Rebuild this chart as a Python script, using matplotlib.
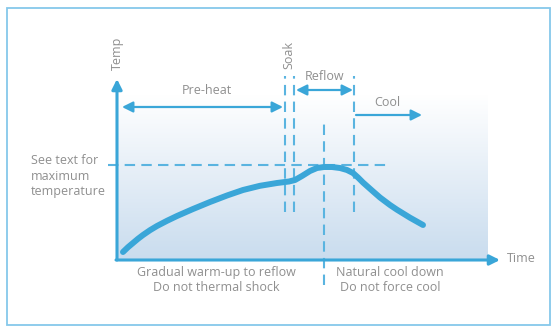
import numpy as np
import matplotlib.pyplot as plt
from matplotlib.patches import FancyArrowPatch, Rectangle
from matplotlib.colors import LinearSegmentedColormap

# reflow profile (time, temp in arbitrary units)
time = [6, 11, 16, 21, 26, 33, 40, 50, 60, 76, 93, 110, 126, 143, 160, 172, 178,
        185, 193, 200, 207, 215, 223, 230, 236, 241, 246, 255, 263, 273, 280,
        293, 306]
temp = [8, 12.8, 17, 21.2, 25, 29.8, 34, 39.2, 44, 51, 58, 64.5, 70, 74.2, 77,
        78.5, 80, 84, 89, 92, 93, 93, 92, 90, 87, 82.5, 77.5, 69.5, 62.5, 55,
        50.3, 42.3, 35]

# zone boundaries on the time axis
soak_start = 168
soak_end = 177
peak_time = 207
reflow_end = 237
max_temp = 95

blue = '#3aa6d8'
dash_blue = '#5ab4e0'
grey = '#8f8f8f'

plt.rcParams['font.family'] = ['Open Sans', 'DejaVu Sans']

fig = plt.figure(figsize=(5.57, 3.32), dpi=100)
ax = fig.add_axes([0, 0, 1, 1])
ax.set_xlim(-117, 440)
ax.set_ylim(-72, 260)
ax.axis('off')

# outer frame
fig.patches.append(Rectangle((7 / 557, 7 / 332), 543 / 557, 317 / 332,
                             transform=fig.transFigure, fill=False,
                             edgecolor='#86c8ea', lw=1.3))

# gradient background
grad = np.linspace(0, 1, 256).reshape(-1, 1)
cmap = LinearSegmentedColormap.from_list('bg', ['#c9dcee', '#ffffff'])
ax.imshow(grad, extent=(0, 371, 0, 165), origin='lower', cmap=cmap,
          aspect='auto', zorder=0)


def arrow(p0, p1, style='-|>', lw=2.2, ms=15):
    a = FancyArrowPatch(p0, p1, arrowstyle=style, mutation_scale=ms,
                        color=blue, lw=lw, shrinkA=0, shrinkB=0, zorder=4)
    ax.add_patch(a)


# axes
arrow((0, 0), (0, 181))
arrow((-1, 0), (383, 0))

# dashed guide lines
dash = dict(color=dash_blue, lw=1.5, dashes=(5, 3), zorder=2)
ax.plot([-9, 271], [max_temp, max_temp], **dash)
for t in (soak_start, soak_end, reflow_end):
    ax.plot([t, t], [48, 184], **dash)
ax.plot([peak_time, peak_time], [-25, 138], **dash)

# zone arrows
arrow((5, 153), (soak_start - 2, 153), '<|-|>', lw=1.6, ms=16)
arrow((soak_end + 2, 170), (reflow_end - 1, 170), '<|-|>', lw=1.6, ms=16)
arrow((reflow_end + 2, 145), (305, 145), '-|>', lw=1.6, ms=16)

# profile curve
ax.plot(time, temp, color=blue, lw=4.3, solid_capstyle='round',
        solid_joinstyle='round', zorder=3)

fs = 9
ax.text(0, 207, 'Temp', rotation=90, ha='center', va='center', color=grey, fontsize=fs)
ax.text(172, 205, 'Soak', rotation=90, ha='center', va='center', color=grey, fontsize=fs)
ax.text(90, 169, 'Pre-heat', ha='center', va='center', color=grey, fontsize=fs)
ax.text(208, 183, 'Reflow', ha='center', va='center', color=grey, fontsize=fs)
ax.text(270, 157, 'Cool', ha='center', va='center', color=grey, fontsize=fs)
ax.text(390, 1, 'Time', ha='left', va='center', color=grey, fontsize=fs)
ax.text(-86, 84, 'See text for\nmaximum\ntemperature', ha='left', va='center',
        color=grey, fontsize=fs, linespacing=1.2)
ax.text(99, -20, 'Gradual warm-up to reflow\nDo not thermal shock', ha='center',
        va='center', color=grey, fontsize=fs, linespacing=1.2)
ax.text(273, -20, 'Natural cool down\nDo not force cool', ha='center',
        va='center', color=grey, fontsize=fs, linespacing=1.2)

fig.savefig('out.png', dpi=100)
